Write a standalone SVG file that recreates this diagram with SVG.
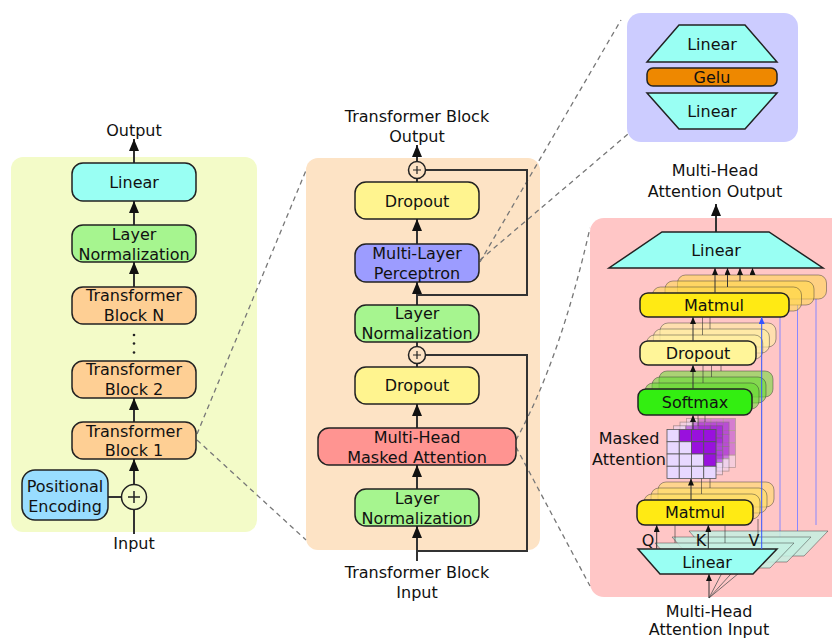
<svg xmlns="http://www.w3.org/2000/svg" xmlns:xlink="http://www.w3.org/1999/xlink" width="832" height="640" viewBox="0 0 832 640">
<style>
.n{stroke:#222;stroke-width:1.5}
.t{font-family:"DejaVu Sans",Verdana,sans-serif;font-size:16px;fill:#111;text-anchor:middle}
.c{stroke:#333;stroke-width:2;fill:none}
.th{stroke:#333;stroke-width:1;fill:none}
.d{stroke:#777;stroke-width:1.3;stroke-dasharray:5 4;fill:none}
.lin{fill:#99fff3}
.ln{fill:#a6f58f}
.tb{fill:#fecf94}
.dr{fill:#fff48f}
.mm{fill:#ffea14}
.bk{stroke:#333;stroke-width:1;stroke-opacity:0.45}
</style>
<defs>
<marker id="ah" markerUnits="userSpaceOnUse" markerWidth="12" markerHeight="10" viewBox="0 0 12 10" refX="12" refY="5" orient="auto"><path d="M0,0 L12,5 L0,10 z" fill="#111"/></marker>
<marker id="ahs" markerUnits="userSpaceOnUse" markerWidth="7" markerHeight="6" viewBox="0 0 7 6" refX="7" refY="3" orient="auto"><path d="M0,0 L7,3 L0,6 z" fill="#111"/></marker>
<marker id="ahb" markerUnits="userSpaceOnUse" markerWidth="7" markerHeight="6" viewBox="0 0 7 6" refX="7" refY="3" orient="auto"><path d="M0,0 L7,3 L0,6 z" fill="#3355ff"/></marker>
<g id="grid" stroke="#555" stroke-width="0.8">
<rect x="0" y="0" width="12.25" height="12.25" fill="#e8d8ff"/>
<rect x="12.25" y="0" width="12.25" height="12.25" fill="#9911dd"/>
<rect x="24.5" y="0" width="12.25" height="12.25" fill="#9911dd"/>
<rect x="36.75" y="0" width="12.25" height="12.25" fill="#9911dd"/>
<rect x="0" y="12.25" width="12.25" height="12.25" fill="#e8d8ff"/>
<rect x="12.25" y="12.25" width="12.25" height="12.25" fill="#e8d8ff"/>
<rect x="24.5" y="12.25" width="12.25" height="12.25" fill="#9911dd"/>
<rect x="36.75" y="12.25" width="12.25" height="12.25" fill="#9911dd"/>
<rect x="0" y="24.5" width="12.25" height="12.25" fill="#e8d8ff"/>
<rect x="12.25" y="24.5" width="12.25" height="12.25" fill="#e8d8ff"/>
<rect x="24.5" y="24.5" width="12.25" height="12.25" fill="#e8d8ff"/>
<rect x="36.75" y="24.5" width="12.25" height="12.25" fill="#9911dd"/>
<rect x="0" y="36.75" width="12.25" height="12.25" fill="#e8d8ff"/>
<rect x="12.25" y="36.75" width="12.25" height="12.25" fill="#e8d8ff"/>
<rect x="24.5" y="36.75" width="12.25" height="12.25" fill="#e8d8ff"/>
<rect x="36.75" y="36.75" width="12.25" height="12.25" fill="#e8d8ff"/>
</g>
</defs>

<!-- panels -->
<rect id="panel-model" x="11" y="157" width="246" height="375" rx="12" fill="#f3fbc8"/>
<rect id="panel-block" x="306" y="158" width="234" height="392" rx="12" fill="#fde3c5"/>
<rect id="panel-mlp" x="627" y="13" width="171" height="129" rx="14" fill="#ccccff"/>
<rect id="panel-attn" x="590" y="218" width="262" height="379" rx="14" fill="#ffc6c6"/>

<!-- dashed zoom connectors -->
<g id="zoom-lines">
<line class="d" x1="197" y1="434" x2="307" y2="168"/>
<line class="d" x1="197" y1="440" x2="306" y2="540"/>
<line class="d" x1="480" y1="262" x2="621" y2="20"/>
<line class="d" x1="480" y1="260" x2="628" y2="134"/>
<path class="d" d="M516,440 Q560,360 590,228"/>
<line class="d" x1="516" y1="447" x2="590" y2="586"/>
</g>

<!-- connectors -->
<g id="connectors">
<line class="c" x1="134" y1="163" x2="134" y2="139" marker-end="url(#ah)"/>
<line class="c" x1="134" y1="225" x2="134" y2="201" marker-end="url(#ah)"/>
<line class="c" x1="134" y1="287" x2="134" y2="262" marker-end="url(#ah)"/>
<line class="c" x1="134" y1="422" x2="134" y2="398" marker-end="url(#ah)"/>
<line class="c" x1="134" y1="484" x2="134" y2="459" marker-end="url(#ah)"/>
<line class="c" x1="134" y1="534" x2="134" y2="509.5"/>
<line class="c" x1="108" y1="497" x2="121.5" y2="497"/>
<line class="c" x1="417" y1="161.5" x2="417" y2="145" marker-end="url(#ah)"/>
<line class="c" x1="417" y1="182" x2="417" y2="178.5"/>
<line class="c" x1="417" y1="244" x2="417" y2="219" marker-end="url(#ah)"/>
<line class="c" x1="417" y1="305" x2="417" y2="282" marker-end="url(#ah)"/>
<line class="c" x1="417" y1="346.5" x2="417" y2="342"/>
<line class="c" x1="417" y1="367" x2="417" y2="363.5"/>
<line class="c" x1="417" y1="428" x2="417" y2="404" marker-end="url(#ah)"/>
<line class="c" x1="417" y1="489" x2="417" y2="465" marker-end="url(#ah)"/>
<line class="c" x1="417" y1="561" x2="417" y2="526" marker-end="url(#ah)"/>
<polyline class="c" points="417,551 527,551 527,355 425.5,355"/>
<polyline class="c" points="417,295 527,295 527,170 425.5,170"/>
</g>

<!-- left model nodes -->
<text class="t" x="134" y="136">Output</text>
<g id="model-linear"><rect class="n lin" x="72" y="163" width="124" height="38" rx="11"/><text class="t" x="134" y="188">Linear</text></g>
<g id="model-ln"><rect class="n ln" x="72" y="225" width="124" height="37" rx="11"/><text class="t" x="134" y="240">Layer</text><text class="t" x="134" y="260">Normalization</text></g>
<g id="model-tbn"><rect class="n tb" x="72" y="287" width="124" height="37" rx="11"/><text class="t" x="134" y="301">Transformer</text><text class="t" x="134" y="321">Block N</text></g>
<g id="model-dots" fill="#222"><circle cx="134" cy="335" r="1.3"/><circle cx="134" cy="343.5" r="1.3"/><circle cx="134" cy="352.5" r="1.3"/></g>
<g id="model-tb2"><rect class="n tb" x="72" y="361" width="124" height="37" rx="11"/><text class="t" x="134" y="375">Transformer</text><text class="t" x="134" y="395">Block 2</text></g>
<g id="model-tb1"><rect class="n tb" x="72" y="422" width="124" height="37" rx="11"/><text class="t" x="134" y="436.5">Transformer</text><text class="t" x="134" y="456">Block 1</text></g>
<g id="model-pe"><rect class="n" fill="#99ddff" x="22" y="470" width="86" height="50" rx="13"/><text class="t" x="65" y="492">Positional</text><text class="t" x="65" y="512">Encoding</text></g>
<g id="model-add"><circle class="n" fill="#f3fbc8" cx="134" cy="497" r="12.5"/><path d="M128,497 H140 M134,491 V503" stroke="#222" stroke-width="1.5"/></g>
<text class="t" x="134" y="549">Input</text>

<!-- middle block nodes -->
<text class="t" x="417" y="122">Transformer Block</text>
<text class="t" x="417" y="142">Output</text>
<g id="block-add2"><circle class="n" fill="#fde3c5" cx="417" cy="170" r="8.5"/><path d="M413,170 H421 M417,166 V174" stroke="#222" stroke-width="1.2"/></g>
<g id="block-dropout2"><rect class="n dr" x="355" y="182" width="124" height="37" rx="11"/><text class="t" x="417" y="206.5">Dropout</text></g>
<g id="block-mlp"><rect class="n" fill="#9c9cff" x="355" y="244" width="124" height="38" rx="11"/><text class="t" x="417" y="258.5">Multi-Layer</text><text class="t" x="417" y="278.5">Perceptron</text></g>
<g id="block-ln2"><rect class="n ln" x="355" y="305" width="124" height="37" rx="11"/><text class="t" x="417" y="319">Layer</text><text class="t" x="417" y="339">Normalization</text></g>
<g id="block-add1"><circle class="n" fill="#fde3c5" cx="417" cy="355" r="8.5"/><path d="M413,355 H421 M417,351 V359" stroke="#222" stroke-width="1.2"/></g>
<g id="block-dropout1"><rect class="n dr" x="355" y="367" width="124" height="37" rx="11"/><text class="t" x="417" y="391">Dropout</text></g>
<g id="block-mha"><rect class="n" fill="#ff9491" x="318" y="428" width="198" height="37" rx="11"/><text class="t" x="417" y="442.5">Multi-Head</text><text class="t" x="417" y="462.5">Masked Attention</text></g>
<g id="block-ln1"><rect class="n ln" x="355" y="489" width="124" height="37" rx="11"/><text class="t" x="417" y="504">Layer</text><text class="t" x="417" y="524">Normalization</text></g>
<text class="t" x="417" y="577.5">Transformer Block</text>
<text class="t" x="417" y="597.5">Input</text>

<!-- MLP detail -->
<g id="mlp-linear1"><polygon class="n lin" points="679,25 745,25 777,62 647,62"/><text class="t" x="712" y="49.5">Linear</text></g>
<g id="mlp-gelu"><rect class="n" fill="#ee8800" x="647" y="68" width="130" height="18" rx="6"/><text class="t" x="712" y="83">Gelu</text></g>
<g id="mlp-linear2"><polygon class="n lin" points="647,93 777,93 745,129 679,129"/><text class="t" x="712" y="117">Linear</text></g>

<!-- attention detail -->
<text class="t" x="715" y="176">Multi-Head</text>
<text class="t" x="715" y="197">Attention Output</text>
<g id="attn-lines">
<line class="c" x1="716" y1="232" x2="716" y2="204" marker-end="url(#ah)"/>
<line stroke="#8888ff" stroke-width="1" x1="780" y1="537" x2="780" y2="311"/>
<line stroke="#8888ff" stroke-width="1" x1="797.5" y1="531" x2="797.5" y2="305"/>
<line stroke="#8888ff" stroke-width="1" x1="816" y1="525" x2="816" y2="299"/>
<line stroke="#555" stroke-width="0.8" x1="709" y1="598" x2="724" y2="569"/>
<line stroke="#555" stroke-width="0.8" x1="709" y1="598" x2="740" y2="564"/>
<line stroke="#555" stroke-width="0.8" x1="709" y1="598" x2="757" y2="558"/>
</g>
<g id="attn-linear-in">
<polygon class="bk" fill="#c4f0e2" fill-opacity="0.85" points="689,531 828,531 804,556 711,556"/>
<polygon class="bk" fill="#c4f0e2" fill-opacity="0.85" points="672,537 811,537 787,562 694,562"/>
<polygon class="bk" fill="#c4f0e2" fill-opacity="0.85" points="655,543 794,543 770,568 677,568"/>
<polygon class="n lin" points="638,549 777,549 753,574 660,574"/>
<text class="t" x="707" y="568">Linear</text>
</g>
<g id="attn-matmul1">
<rect class="bk" fill="#ffe060" fill-opacity="0.55" x="658" y="482" width="116" height="25" rx="8"/>
<rect class="bk" fill="#ffe060" fill-opacity="0.55" x="651" y="488" width="116" height="25" rx="8"/>
<rect class="bk" fill="#ffe060" fill-opacity="0.55" x="644" y="494" width="116" height="25" rx="8"/>
<rect class="n mm" x="637" y="500" width="116" height="25" rx="8"/>
<text class="t" x="695" y="518">Matmul</text>
</g>
<g id="attn-mask">
<use xlink:href="#grid" href="#grid" x="686.5" y="418.4" opacity="0.4"/>
<use xlink:href="#grid" href="#grid" x="680" y="422.1" opacity="0.45"/>
<use xlink:href="#grid" href="#grid" x="673.5" y="425.8" opacity="0.5"/>
<use xlink:href="#grid" href="#grid" x="667" y="429.5"/>
<text class="t" x="629" y="444">Masked</text>
<text class="t" x="629" y="465">Attention</text>
</g>
<g id="attn-softmax">
<rect class="bk" fill="#66dd33" fill-opacity="0.55" x="659" y="371" width="114" height="26" rx="8"/>
<rect class="bk" fill="#66dd33" fill-opacity="0.55" x="652" y="377" width="114" height="26" rx="8"/>
<rect class="bk" fill="#66dd33" fill-opacity="0.55" x="645" y="383" width="114" height="26" rx="8"/>
<rect class="n" fill="#33ee11" x="638" y="389" width="114" height="26" rx="8"/>
<text class="t" x="695" y="408">Softmax</text>
</g>
<g id="attn-dropout">
<rect class="bk" fill="#fff0a0" fill-opacity="0.6" x="660" y="323" width="116" height="24" rx="8"/>
<rect class="bk" fill="#fff0a0" fill-opacity="0.6" x="653.4" y="329" width="116" height="24" rx="8"/>
<rect class="bk" fill="#fff0a0" fill-opacity="0.6" x="646.7" y="335" width="116" height="24" rx="8"/>
<rect class="n" fill="#fff599" x="640" y="341" width="116" height="24" rx="8"/>
<text class="t" x="698" y="359">Dropout</text>
</g>
<g id="attn-matmul2">
<rect class="bk" fill="#ffd84a" fill-opacity="0.55" x="677.5" y="275" width="149" height="24" rx="8"/>
<rect class="bk" fill="#ffd84a" fill-opacity="0.55" x="665" y="281" width="149" height="24" rx="8"/>
<rect class="bk" fill="#ffd84a" fill-opacity="0.55" x="652.5" y="287" width="149" height="24" rx="8"/>
<rect class="n mm" x="640" y="293" width="149" height="24" rx="8"/>
<text class="t" x="714" y="311">Matmul</text>
</g>
<g id="attn-linear-out"><polygon class="n lin" points="662,232 769,232 823,268 609,268"/><text class="t" x="716" y="256">Linear</text></g>
<g id="attn-arrows">
<line class="th" x1="715" y1="293" x2="715" y2="268" marker-end="url(#ahs)"/>
<line class="th" x1="727.5" y1="287" x2="727.5" y2="268" marker-end="url(#ahs)"/>
<line class="th" x1="740" y1="281" x2="740" y2="268" marker-end="url(#ahs)"/>
<line class="th" x1="752.5" y1="275" x2="752.5" y2="268" marker-end="url(#ahs)"/>
<line class="th" x1="693" y1="341" x2="693" y2="317" marker-end="url(#ahs)"/>
<line class="th" stroke-opacity="0.6" x1="702.5" y1="335" x2="702.5" y2="317"/>
<line class="th" stroke-opacity="0.6" x1="710" y1="329" x2="710" y2="317"/>
<line class="th" x1="693" y1="389" x2="693" y2="365" marker-end="url(#ahs)"/>
<line class="th" stroke-opacity="0.6" x1="703" y1="383" x2="703" y2="365"/>
<line class="th" stroke-opacity="0.6" x1="711.5" y1="377" x2="711.5" y2="365"/>
<line class="th" stroke-opacity="0.6" x1="721" y1="371" x2="721" y2="365"/>
<line class="th" x1="693" y1="429.5" x2="693" y2="415" marker-end="url(#ahs)"/>
<line class="th" stroke-opacity="0.6" x1="698" y1="425.8" x2="698" y2="415"/>
<line class="th" stroke-opacity="0.6" x1="705" y1="422" x2="705" y2="415"/>
<line class="th" x1="691" y1="500" x2="691" y2="478.5" marker-end="url(#ahs)"/>
<line class="th" stroke-opacity="0.6" x1="701.5" y1="494" x2="701.5" y2="478.5"/>
<line class="th" stroke-opacity="0.6" x1="710" y1="488" x2="710" y2="478.5"/>
<line class="th" x1="656.7" y1="549" x2="656.7" y2="525" marker-end="url(#ahs)"/>
<line class="th" x1="708.3" y1="549" x2="708.3" y2="525" marker-end="url(#ahs)"/>
<line class="th" stroke-opacity="0.6" x1="675" y1="543" x2="675" y2="525"/>
<line class="th" stroke-opacity="0.6" x1="725" y1="543" x2="725" y2="525"/>
<line class="th" stroke-opacity="0.6" x1="758" y1="537" x2="758" y2="519"/>
<line stroke="#3355ff" stroke-width="1" x1="761.7" y1="549" x2="761.7" y2="317" marker-end="url(#ahb)"/>
<line class="th" x1="709" y1="598" x2="709" y2="574" marker-end="url(#ahs)"/>
</g>
<text class="t" x="648" y="546">Q</text>
<text class="t" x="701" y="546">K</text>
<text class="t" x="754" y="546">V</text>
<text class="t" x="709" y="617">Multi-Head</text>
<text class="t" x="709" y="635">Attention Input</text>
</svg>
